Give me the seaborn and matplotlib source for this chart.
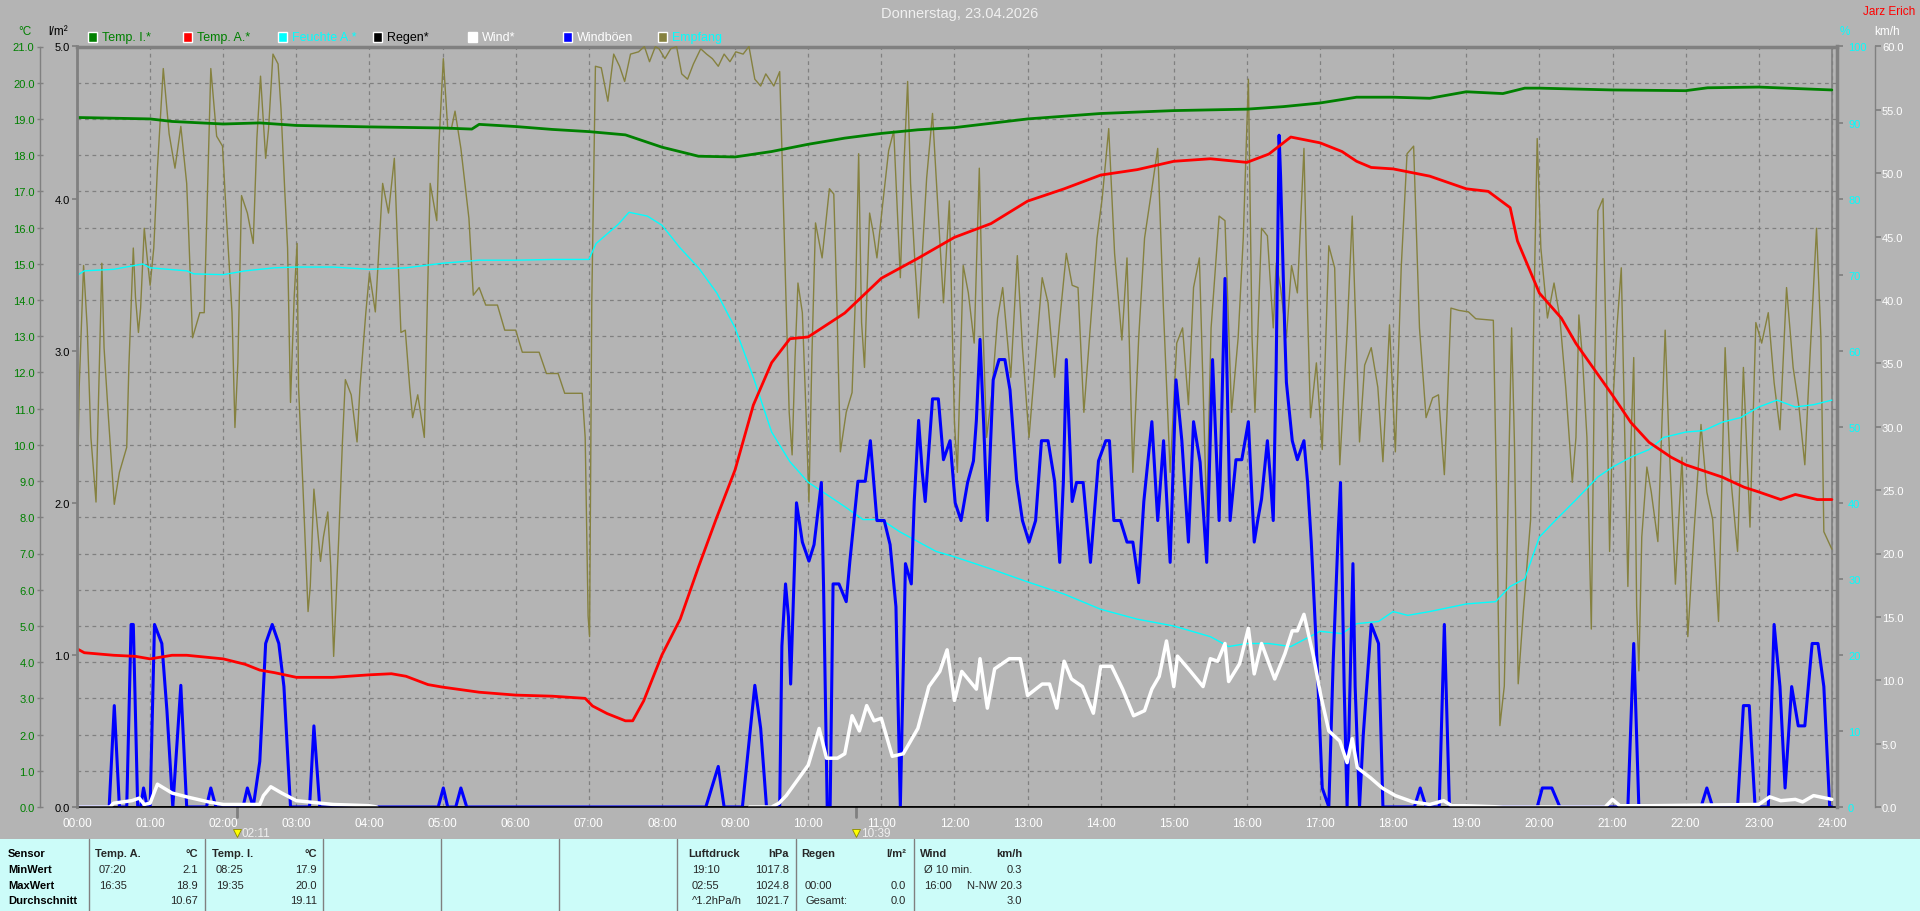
import numpy as np
import pandas as pd
import matplotlib
matplotlib.use("Agg")
import matplotlib.pyplot as plt
import matplotlib.transforms as mtransforms
from matplotlib.patches import Rectangle
import seaborn as sns

# ---- data (time in hours of the day) ----
temp_i_t = [0, 1, 1.3, 2, 2.5, 3, 4, 5, 5.4, 5.5, 6, 6.5, 7, 7.5, 8, 8.5, 9, 9.5, 10, 10.5,
            11, 11.5, 12, 13, 14, 15, 16, 16.5, 17, 17.5, 18, 18.5, 19, 19.5, 19.8, 20, 21, 22,
            22.3, 23, 24]
temp_i = [19.04, 19.0, 18.93, 18.86, 18.89, 18.82, 18.78, 18.75, 18.72, 18.85, 18.79, 18.71,
          18.65, 18.56, 18.22, 17.97, 17.95, 18.1, 18.3, 18.47, 18.6, 18.7, 18.76, 19.0, 19.15,
          19.23, 19.27, 19.34, 19.44, 19.6, 19.6, 19.57, 19.75, 19.7, 19.85, 19.85, 19.8, 19.78,
          19.86, 19.88, 19.8]

temp_a_t = [0, 0.1, 0.5, 0.8, 1, 1.3, 1.5, 2, 2.3, 2.5, 2.7, 3, 3.5, 4, 4.3, 4.5, 4.8, 5, 5.5, 6,
            6.5, 6.95, 7.05, 7.25, 7.5, 7.6, 7.75, 8, 8.25, 8.5, 8.75, 9, 9.25, 9.5, 9.75, 10,
            10.5, 11, 11.5, 12, 12.5, 13, 13.5, 14, 14.5, 15, 15.5, 16, 16.3, 16.6, 16.9, 17,
            17.3, 17.5, 17.7, 18, 18.5, 19, 19.3, 19.6, 19.7, 20, 20.3, 20.5, 21, 21.25, 21.5,
            21.8, 22, 22.5, 22.8, 23, 23.3, 23.5, 23.8, 24]
temp_a = [4.37, 4.26, 4.19, 4.16, 4.09, 4.19, 4.19, 4.09, 3.94, 3.78, 3.71, 3.58, 3.58, 3.65,
          3.68, 3.61, 3.38, 3.31, 3.17, 3.09, 3.06, 3.0, 2.79, 2.58, 2.38, 2.38, 2.93, 4.2, 5.19,
          6.63, 8.0, 9.31, 11.1, 12.27, 12.93, 12.98, 13.64, 14.6, 15.15, 15.73, 16.11, 16.73,
          17.07, 17.45, 17.6, 17.83, 17.9, 17.8, 18.03, 18.5, 18.38, 18.34, 18.1, 17.83, 17.66,
          17.62, 17.42, 17.07, 17.0, 16.55, 15.63, 14.19, 13.5, 12.8, 11.37, 10.62, 10.07, 9.66,
          9.45, 9.11, 8.83, 8.7, 8.49, 8.63, 8.49, 8.49]

hum_t = [0, 0.1, 0.5, 0.9, 1, 1.5, 1.6, 2, 2.3, 2.7, 3, 3.5, 4, 4.5, 5, 5.5, 6, 6.5, 7, 7.1,
         7.4, 7.55, 7.8, 8, 8.25, 8.5, 8.75, 9, 9.25, 9.5, 9.75, 10, 10.25, 10.5, 10.75, 11,
         11.25, 11.5, 11.75, 12, 12.5, 13, 13.5, 14, 14.5, 15, 15.5, 15.75, 16, 16.3, 16.6, 17,
         17.3, 17.5, 17.8, 18, 18.2, 18.5, 19, 19.4, 19.6, 19.8, 20, 20.2, 20.5, 20.8, 21, 21.25,
         21.5, 21.7, 22, 22.25, 22.5, 22.75, 23, 23.25, 23.5, 23.75, 24]
hum = [69.9, 70.5, 70.7, 71.4, 70.9, 70.5, 70.1, 70.0, 70.5, 70.9, 71.0, 71.0, 70.7, 70.9, 71.5,
       71.9, 71.9, 72.0, 72.0, 74.1, 76.6, 78.2, 77.7, 76.5, 73.5, 70.9, 67.6, 63.0, 56.5, 49.3,
       45.4, 42.7, 41.1, 39.5, 37.8, 37.8, 36.2, 34.9, 33.6, 32.9, 31.3, 29.6, 28.0, 26.0, 24.7,
       23.8, 22.4, 21.1, 21.5, 21.5, 21.1, 23.1, 22.8, 24.1, 24.4, 25.7, 25.2, 25.7, 26.7, 27.0,
       29.0, 30.0, 35.5, 37.5, 40.4, 43.4, 44.7, 46.0, 47.0, 48.6, 49.3, 49.5, 50.6, 51.2, 52.6,
       53.5, 52.6, 52.9, 53.5]

# None marks a gap in the record
wind_t = [0, 0.45, 0.5, 0.75, 0.85, 0.92, 1.0, 1.1, 1.3, 1.5,
          1.8, 2.0, 2.5, 2.55, 2.65, 2.8, 3.0, 3.5, 4.0, 4.1,
          6.0, 9.2, 9.5, 9.6, 9.7, 9.8, 10.0, 10.15, 10.25, 10.4, 10.5, 10.6,
          10.7, 10.8, 10.9, 11.0, 11.15, 11.3, 11.5, 11.65, 11.8, 11.9,
          12.0, 12.1, 12.3, 12.35, 12.45, 12.55, 12.75, 12.9, 13.0, 13.2,
          13.3, 13.4, 13.5, 13.6, 13.75, 13.9, 14.0, 14.15, 14.3, 14.45,
          14.6, 14.7, 14.8, 14.9, 15.0, 15.05, 15.2, 15.4, 15.5, 15.6,
          15.7, 15.75, 15.9, 16.02, 16.1, 16.2, 16.38, 16.52, 16.62, 16.69,
          16.78, 16.91, 17.01, 17.12, 17.27, 17.37, 17.44, 17.51, 17.69, 17.85,
          18.03, 18.27, 18.5, 18.69, 18.8, 19.0, 19.5, 20.0, 20.9, 21.0,
          21.1, 21.5, 23.0, 23.15, 23.3, 23.5, 23.6, 23.75, 24.0]
wind = [0, 0, 0.3, 0.5, 0.7, 0.2, 0.3, 1.8, 1.1, 0.8,
        0.4, 0.2, 0.2, 0.9, 1.6, 1.1, 0.5, 0.2, 0.1, 0,
        None, 0, 0, 0.3, 0.9, 1.7, 3.3, 6.2, 3.85, 3.85, 4.2, 7.2,
        6.0, 8.0, 6.8, 7.0, 4.0, 4.2, 6.2, 9.5, 10.7, 12.4,
        8.4, 10.7, 9.3, 11.7, 7.8, 10.9, 11.7, 11.7, 8.8, 9.7,
        9.7, 7.8, 11.5, 10.1, 9.5, 7.4, 11.1, 11.1, 9.3, 7.2,
        7.6, 9.3, 10.3, 13.1, 9.5, 11.9, 10.9, 9.5, 11.7, 11.5,
        12.9, 9.9, 11.3, 14.1, 10.5, 12.9, 10.1, 12.1, 13.9, 13.9,
        15.2, 11.9, 8.8, 6.0, 5.2, 3.5, 5.4, 3.1, 2.3, 1.5,
        0.9, 0.4, 0.2, 0.5, 0.1, 0.1, 0, 0, 0, 0.6,
        0.1, 0.1, 0.2, 0.8, 0.5, 0.6, 0.4, 0.9, 0.6]

gust_t = [0.0, 0.44, 0.51, 0.58, 0.68, 0.74, 0.77, 0.83, 0.87, 0.91,
          0.96, 1.00, 1.06, 1.16, 1.23, 1.31, 1.42, 1.50, 1.77, 1.83,
          1.90, 2.27, 2.33, 2.41, 2.50, 2.58, 2.67, 2.76, 2.83, 2.92,
          3.18, 3.24, 3.32, 4.94, 5.01, 5.07, 5.18, 5.25, 5.33, 8.60,
          8.77, 8.85, 9.10, 9.27, 9.35, 9.43, 9.61, 9.64, 9.69, 9.73,
          9.76, 9.79, 9.84, 9.92, 10.01, 10.08, 10.18, 10.21, 10.26, 10.30,
          10.34, 10.42, 10.52, 10.57, 10.68, 10.78, 10.85, 10.94, 11.04, 11.12,
          11.20, 11.26, 11.33, 11.41, 11.45, 11.51, 11.56, 11.60, 11.70, 11.78,
          11.85, 11.94, 12.01, 12.09, 12.18, 12.26, 12.30, 12.35, 12.40, 12.45,
          12.53, 12.61, 12.69, 12.76, 12.85, 12.93, 13.02, 13.11, 13.19, 13.28,
          13.37, 13.44, 13.49, 13.53, 13.61, 13.67, 13.76, 13.86, 13.97, 14.07,
          14.12, 14.18, 14.27, 14.36, 14.44, 14.52, 14.59, 14.70, 14.78, 14.86,
          14.95, 15.03, 15.11, 15.20, 15.27, 15.36, 15.45, 15.53, 15.62, 15.70,
          15.77, 15.85, 15.93, 16.02, 16.07, 16.10, 16.15, 16.20, 16.28, 16.32,
          16.36, 16.40, 16.44, 16.46, 16.52, 16.54, 16.62, 16.69, 16.78, 16.83,
          16.88, 16.96, 17.03, 17.12, 17.18, 17.25, 17.28, 17.33, 17.37, 17.41,
          17.45, 17.48, 17.54, 17.59, 17.70, 17.80, 17.86, 18.29, 18.37, 18.45,
          18.63, 18.70, 18.77, 19.97, 20.04, 20.17, 20.28, 21.21, 21.29, 21.36,
          22.21, 22.29, 22.37, 22.71, 22.79, 22.87, 22.95, 23.13, 23.21, 23.29,
          23.36, 23.45, 23.54, 23.63, 23.73, 23.81, 23.89, 23.97, 24.0]
gust = [0, 0, 8.0, 0, 0, 14.4, 14.4, 0, 0, 1.5,
        0, 0, 14.4, 12.9, 7.6, 0, 9.6, 0, 0, 1.5,
        0, 0, 1.5, 0, 3.6, 12.9, 14.4, 12.9, 9.5, 0,
        0, 6.4, 0, 0, 1.5, 0, 0, 1.5, 0, 0,
        3.2, 0, 0, 9.6, 6.2, 0, 0, 12.7, 17.6, 15.0,
        9.7, 15.0, 24.0, 20.9, 19.4, 20.7, 25.6, 17.4, 0, 0,
        17.6, 17.6, 16.2, 19.4, 25.7, 25.7, 28.9, 22.6, 22.6, 20.7,
        15.8, 0, 19.2, 17.6, 24.1, 30.5, 26.4, 24.1, 32.2, 32.2,
        27.4, 28.9, 24.0, 22.6, 25.6, 27.3, 30.5, 36.9, 30.2, 22.6,
        33.7, 35.3, 35.3, 32.9, 25.8, 22.6, 20.9, 22.6, 28.9, 28.9,
        25.7, 19.3, 25.7, 35.3, 24.1, 25.6, 25.6, 19.3, 27.3, 28.9,
        28.9, 22.6, 22.6, 20.9, 20.9, 17.7, 24.1, 30.4, 22.6, 28.9,
        19.3, 33.7, 28.9, 20.9, 30.4, 27.2, 19.3, 35.3, 22.6, 41.7,
        22.6, 27.4, 27.4, 30.4, 24.3, 20.9, 22.7, 24.3, 28.9, 26.0,
        22.6, 34.7, 53.0, 49.8, 37.0, 33.5, 28.9, 27.4, 28.9, 25.6,
        20.9, 11.3, 1.5, 0, 11.5, 21.9, 25.6, 9.5, 0, 9.5,
        19.2, 9.5, 0, 5.6, 14.4, 12.9, 0, 0, 1.5, 0,
        0, 14.4, 0, 0, 1.5, 1.5, 0, 0, 12.9, 0,
        0, 1.5, 0, 0, 8.0, 8.0, 0, 0, 14.4, 9.5,
        1.5, 9.5, 6.4, 6.4, 12.9, 12.9, 9.5, 0, 0]

emp_t = [0.00, 0.03, 0.09, 0.14, 0.19, 0.26, 0.30, 0.34, 0.37, 0.43,
         0.51, 0.58, 0.68, 0.71, 0.77, 0.80, 0.84, 0.87, 0.92, 0.96,
         1.00, 1.05, 1.10, 1.18, 1.26, 1.34, 1.42, 1.50, 1.53, 1.58,
         1.68, 1.74, 1.78, 1.83, 1.91, 1.99, 2.04, 2.12, 2.16, 2.20,
         2.25, 2.33, 2.41, 2.46, 2.51, 2.58, 2.62, 2.68, 2.75, 2.79,
         2.84, 2.88, 2.92, 2.97, 3.01, 3.03, 3.09, 3.16, 3.19, 3.24,
         3.33, 3.37, 3.43, 3.47, 3.51, 3.58, 3.63, 3.67, 3.75, 3.83,
         3.87, 3.95, 4.00, 4.08, 4.13, 4.18, 4.26, 4.34, 4.38, 4.43,
         4.49, 4.55, 4.59, 4.66, 4.75, 4.78, 4.83, 4.92, 4.95, 5.01,
         5.07, 5.12, 5.17, 5.25, 5.36, 5.42, 5.50, 5.59, 5.75, 5.85,
         6.00, 6.09, 6.32, 6.42, 6.58, 6.67, 6.91, 6.95, 6.99, 7.01,
         7.04, 7.09, 7.17, 7.26, 7.34, 7.42, 7.49, 7.57, 7.68, 7.76,
         7.83, 7.91, 7.96, 8.04, 8.12, 8.20, 8.27, 8.35, 8.43, 8.53,
         8.61, 8.69, 8.77, 8.85, 8.93, 9.01, 9.11, 9.19, 9.27, 9.35,
         9.42, 9.53, 9.61, 9.64, 9.69, 9.74, 9.78, 9.82, 9.86, 9.92,
         9.97, 10.01, 10.05, 10.10, 10.19, 10.29, 10.35, 10.39, 10.44, 10.52,
         10.60, 10.65, 10.69, 10.73, 10.77, 10.84, 10.89, 10.94, 11.02, 11.10,
         11.17, 11.26, 11.31, 11.36, 11.40, 11.46, 11.51, 11.62, 11.70, 11.79,
         11.85, 11.93, 12.00, 12.04, 12.12, 12.19, 12.27, 12.34, 12.39, 12.44,
         12.51, 12.59, 12.66, 12.77, 12.86, 12.93, 13.02, 13.11, 13.20, 13.28,
         13.37, 13.45, 13.53, 13.61, 13.69, 13.77, 13.87, 13.95, 14.02, 14.11,
         14.19, 14.29, 14.36, 14.44, 14.52, 14.60, 14.70, 14.78, 14.86, 14.95,
         15.04, 15.12, 15.20, 15.27, 15.35, 15.45, 15.51, 15.62, 15.70, 15.79,
         15.88, 15.95, 16.02, 16.07, 16.11, 16.20, 16.28, 16.36, 16.40, 16.46,
         16.54, 16.61, 16.69, 16.78, 16.83, 16.87, 16.95, 17.03, 17.12, 17.20,
         17.27, 17.37, 17.44, 17.54, 17.61, 17.70, 17.79, 17.86, 17.95, 18.03,
         18.11, 18.19, 18.28, 18.36, 18.45, 18.54, 18.62, 18.70, 18.74, 18.79,
         18.90, 19.03, 19.13, 19.37, 19.41, 19.46, 19.52, 19.62, 19.66, 19.71,
         19.78, 19.88, 19.93, 19.97, 20.02, 20.11, 20.20, 20.28, 20.36, 20.45,
         20.50, 20.54, 20.59, 20.65, 20.71, 20.75, 20.80, 20.87, 20.91, 20.96,
         21.01, 21.06, 21.12, 21.17, 21.21, 21.25, 21.29, 21.33, 21.36, 21.40,
         21.47, 21.53, 21.62, 21.72, 21.77, 21.86, 21.95, 22.03, 22.11, 22.21,
         22.29, 22.37, 22.45, 22.54, 22.61, 22.71, 22.79, 22.88, 22.96, 23.04,
         23.13, 23.21, 23.29, 23.38, 23.47, 23.55, 23.63, 23.70, 23.79, 23.85,
         23.89, 24.00]
emp = [38.2, 55.2, 71.2, 63.0, 48.6, 40.1, 55.8, 71.5, 60.4, 51.2,
       39.8, 44.0, 47.3, 58.1, 73.5, 67.0, 62.4, 65.6, 76.1, 72.2,
       68.6, 73.5, 84.0, 97.1, 88.5, 84.0, 89.5, 82.0, 74.8, 61.7,
       65.0, 65.0, 79.4, 97.1, 88.2, 86.9, 78.1, 65.0, 49.9, 58.4,
       80.4, 78.1, 74.1, 87.9, 96.1, 85.3, 89.2, 99.0, 97.7, 91.8,
       81.3, 73.5, 53.2, 67.0, 74.1, 55.2, 42.1, 25.7, 29.0, 41.8,
       32.3, 35.5, 38.8, 31.6, 19.8, 35.5, 48.0, 56.2, 54.2, 48.0,
       55.2, 65.0, 70.2, 65.1, 73.5, 82.0, 78.1, 85.3, 74.8, 62.4,
       62.7, 55.2, 51.2, 54.2, 48.6, 61.7, 82.0, 77.1, 87.2, 98.4,
       89.2, 89.2, 91.5, 86.6, 77.4, 67.3, 68.3, 66.0, 66.0, 62.7,
       62.7, 59.8, 59.8, 57.0, 57.0, 54.4, 54.4, 48.6, 25.1, 22.4,
       66.3, 97.4, 97.2, 92.8, 99.0, 97.4, 95.4, 99.0, 99.3, 100.0,
       98.0, 100.0, 99.7, 98.4, 99.7, 100.0, 96.4, 95.7, 97.7, 99.7,
       99.0, 98.4, 97.4, 99.0, 98.0, 99.3, 99.0, 100.0, 95.7, 94.8,
       96.4, 94.8, 96.7, 86.6, 68.9, 51.9, 46.3, 59.1, 68.9, 65.0,
       51.9, 40.1, 59.1, 76.8, 72.2, 81.3, 80.6, 67.0, 46.7, 51.9,
       54.5, 68.3, 85.9, 63.7, 57.8, 78.1, 75.5, 72.2, 79.4, 86.3,
       88.9, 69.6, 84.6, 95.4, 82.0, 71.5, 64.3, 82.7, 91.2, 76.1,
       66.3, 79.7, 50.6, 44.0, 71.2, 67.6, 61.0, 84.0, 63.0, 48.6,
       54.2, 64.3, 68.3, 56.5, 72.5, 60.4, 48.6, 59.1, 69.6, 66.3,
       56.5, 65.0, 72.8, 68.6, 68.3, 51.9, 64.7, 74.8, 80.0, 89.2,
       72.8, 61.4, 72.2, 44.0, 61.7, 74.8, 81.3, 86.6, 65.0, 44.0,
       61.0, 63.0, 52.9, 68.3, 72.2, 38.2, 63.0, 77.7, 77.1, 51.9,
       61.7, 74.8, 95.7, 61.7, 51.9, 76.1, 75.1, 63.0, 71.5, 68.3,
       61.7, 71.2, 67.6, 86.6, 65.0, 51.2, 58.4, 47.0, 73.8, 70.9,
       45.0, 62.4, 77.7, 48.0, 58.1, 60.4, 55.2, 45.4, 63.4, 46.7,
       70.9, 85.9, 86.9, 63.0, 51.2, 53.8, 54.2, 43.7, 52.6, 65.6,
       65.3, 65.1, 64.2, 64.0, 43.4, 10.7, 15.9, 63.0, 47.3, 16.2,
       25.7, 37.8, 68.3, 87.9, 73.5, 64.3, 68.9, 64.3, 55.2, 42.7,
       48.6, 64.7, 58.9, 48.6, 23.4, 55.2, 78.4, 80.0, 61.7, 33.6,
       53.9, 63.0, 70.9, 47.3, 29.0, 47.3, 59.1, 26.4, 17.9, 35.5,
       44.7, 41.4, 34.9, 62.7, 48.6, 29.3, 46.0, 22.4, 35.5, 50.3,
       41.4, 37.8, 24.4, 60.4, 44.0, 33.6, 57.8, 36.8, 63.7, 61.0,
       65.0, 55.8, 49.6, 68.3, 57.8, 52.6, 45.0, 59.1, 76.1, 61.7,
       36.2, 33.9]

rain_t = [0, 24]
rain = [0.0, 0.0]

hour_labels = [f"{h:02d}:00" for h in range(25)]
events = [(2 + 11 / 60, "02:11"), (10 + 39 / 60, "10:39")]

legend_items = [("Temp. I.*", "#008000", "#008000"), ("Temp. A.*", "#ff0000", "#008000"),
                ("Feuchte A.*", "#00ffff", "#00ffff"), ("Regen*", "#000000", "#000000"),
                ("Wind*", "#ffffff", "#ffffff"), ("Windböen", "#0000ff", "#ffffff"),
                ("Empfang", "#85813f", "#00ffff")]

row_labels = ["Sensor", "MinWert", "MaxWert", "Durchschnitt"]
table_cols = [
    ("Temp. A.", "°C", ["07:20", "16:35", ""], ["2.1", "18.9", "10.67"]),
    ("Temp. I.", "°C", ["08:25", "19:35", ""], ["17.9", "20.0", "19.11"]),
    ("Luftdruck", "hPa", ["19:10", "02:55", "^1.2hPa/h"], ["1017.8", "1024.8", "1021.7"]),
    ("Regen", "l/m²", ["", "00:00", "Gesamt:"], ["", "0.0", "0.0"]),
    ("Wind", "km/h", ["Ø 10 min.", "16:00", ""], ["0.3", "N-NW 20.3", "3.0"]),
]

# ---- styling ----
sns.set_theme(style="ticks")
plt.rcParams['font.family'] = ['Liberation Sans', 'DejaVu Sans']

BG = '#b4b4b4'
GRID = '#808080'
GREEN = '#008000'
RED = '#ff0000'
CYAN = '#00ffff'
BLUE = '#0000ff'
OLIVE = '#85813f'
W, H = 1920, 912


def fx(x):
    return x / W


def fy(y):
    return 1 - y / H


def frame(df):
    df = pd.DataFrame(df)
    df['seg'] = df['v'].isna().cumsum()
    return df.dropna()


fig = plt.figure(figsize=(19.2, 9.12), dpi=100, facecolor=BG)
ax = fig.add_axes([fx(77), fy(808), (1837 - 77) / W, (808 - 47.5) / H])
ax.set_facecolor(BG)
ax.set_xlim(0, 24.07)
ax.set_ylim(0, 21)
ax.set_xticks(range(25))
ax.set_xticklabels(hour_labels)
ax.set_yticks(range(22))
ax.set_yticklabels([f"{v:.1f}" for v in range(22)])
ax.grid(True, color=GRID, ls=(0, (3, 3)), lw=0.9)
ax.axvline(24, color=GRID, lw=1.2)
ax.tick_params(axis='x', length=0, pad=7, labelcolor='white', labelsize=8.5)
ax.tick_params(axis='y', direction='inout', length=5, color=GRID, labelcolor=GREEN,
               labelsize=8, pad=1.5, width=1)
ax.spines['left'].set_position(('outward', 26.6))
ax.spines['left'].set_color(GRID)
ax.spines['left'].set_linewidth(1)
ax.spines['top'].set_color(GRID)
ax.spines['top'].set_linewidth(2.5)
ax.spines['right'].set_visible(False)
ax.spines['bottom'].set_color('black')
ax.spines['bottom'].set_linewidth(1.2)

# humidity / reception axis
ax_h = ax.twinx()
ax_h.set_ylim(0, 100)
ax_h.set_yticks(range(0, 101, 10))
ax_h.tick_params(axis='y', direction='out', length=4, color=GRID, labelcolor=CYAN,
                 labelsize=8, pad=4)
for s in ['left', 'top', 'bottom']:
    ax_h.spines[s].set_visible(False)
ax_h.spines['right'].set_color(GRID)
ax_h.spines['right'].set_linewidth(2.5)
sns.lineplot(data=frame({'t': emp_t, 'v': emp}), x='t', y='v', ax=ax_h, color=OLIVE,
             lw=1, estimator=None, sort=False, legend=False)
sns.lineplot(data=frame({'t': hum_t, 'v': hum}), x='t', y='v', ax=ax_h, color=CYAN,
             lw=1, estimator=None, sort=False, legend=False)
ax_h.set_xlabel('')
ax_h.set_ylabel('')

# wind axis
ax_w = ax.twinx()
ax_w.set_ylim(0, 60)
ax_w.set_yticks(np.arange(0, 61, 5))
ax_w.set_yticklabels([f"{v:.1f}" for v in np.arange(0, 61, 5)])
ax_w.tick_params(axis='y', direction='out', length=4, color=GRID, labelcolor='white',
                 labelsize=8, pad=1)
for s in ['left', 'top', 'bottom']:
    ax_w.spines[s].set_visible(False)
ax_w.spines['right'].set_position(('outward', 27.4))
ax_w.spines['right'].set_color(GRID)
ax_w.spines['right'].set_linewidth(1)
sns.lineplot(data=frame({'t': gust_t, 'v': gust}), x='t', y='v', ax=ax_w, color=BLUE,
             lw=2.2, estimator=None, sort=False, legend=False)
sns.lineplot(data=frame({'t': wind_t, 'v': wind}), x='t', y='v', units='seg', ax=ax_w,
             color='white', lw=2.5, estimator=None, sort=False, legend=False)
ax_w.set_xlabel('')
ax_w.set_ylabel('')

# temperatures on top
ax_t = ax.twinx()
ax_t.set_ylim(0, 21)
ax_t.set_yticks([])
for s in ax_t.spines.values():
    s.set_visible(False)
sns.lineplot(x=temp_a_t, y=temp_a, ax=ax_t, color=RED, lw=2, estimator=None, sort=False)
sns.lineplot(x=temp_i_t, y=temp_i, ax=ax_t, color=GREEN, lw=2, estimator=None, sort=False)

# rain axis (left, l/m²)
ax_r = ax.twinx()
ax_r.set_ylim(0, 5)
ax_r.yaxis.tick_left()
ax_r.set_yticks(range(6))
ax_r.set_yticklabels([f"{v:.1f}" for v in range(6)])
ax_r.tick_params(axis='y', direction='out', length=3.6, color=GRID, labelcolor='black',
                 labelsize=8, pad=1.5)
for s in ['right', 'top', 'bottom']:
    ax_r.spines[s].set_visible(False)
ax_r.spines['left'].set_visible(True)
ax_r.spines['left'].set_color(GRID)
ax_r.spines['left'].set_linewidth(2)
sns.lineplot(x=rain_t, y=rain, ax=ax_r, color='black', lw=1.8, estimator=None, sort=False)

for a in (ax, ax_h, ax_w, ax_t, ax_r):
    a.set_xlim(0, 24.07)

# event markers below the time axis
trans = mtransforms.blended_transform_factory(ax.transData, fig.transFigure)
for t, lab in events:
    ax.plot([t, t], [fy(808), fy(818)], transform=trans, color=GRID, lw=2, clip_on=False)
    ax.plot([t], [fy(834)], transform=trans, marker='v', ms=6, color='#ffff00',
            mec='#8a8a00', mew=0.6, clip_on=False)
    ax.text(t + 0.07, fy(834), lab, transform=trans, color='#f0f0f0', fontsize=8.5,
            ha='left', va='center')

# headings, units, legend
fig.text(0.5, fy(14), "Donnerstag, 23.04.2026", color='#f0f0f0', fontsize=10.5,
         ha='center', va='center')
fig.text(fx(1915), fy(12), "Jarz Erich", color=RED, fontsize=8.5, ha='right', va='center')
fig.text(fx(25), fy(32), "°C", color=GREEN, fontsize=8.5, ha='center', va='center')
fig.text(fx(58), fy(32), "l/m²", color='black', fontsize=8.5, ha='center', va='center')
fig.text(fx(1845), fy(32), "%", color=CYAN, fontsize=8.5, ha='center', va='center')
fig.text(fx(1887), fy(32), "km/h", color='white', fontsize=8.5, ha='center', va='center')

for i, (lab, sq, tc) in enumerate(legend_items):
    x0 = 88 + 95 * i
    fig.patches.append(Rectangle((fx(x0), fy(43)), 9 / W, 10 / H, transform=fig.transFigure,
                                 facecolor=sq, edgecolor='white', lw=1))
    fig.text(fx(x0 + 14), fy(38), lab, color=tc, fontsize=9, ha='left', va='center')

# statistics table
fig.patches.append(Rectangle((0, 0), 1, fy(840), transform=fig.transFigure,
                             facecolor='#ccfcf9', edgecolor='none', zorder=0))
for xs in [89, 205, 323, 441, 559, 677, 796, 914]:
    fig.add_artist(plt.Line2D([fx(xs), fx(xs)], [0, fy(840)], transform=fig.transFigure,
                              color=GRID, lw=1))
rows_y = [854, 870, 886, 901]
for lab, yy in zip(row_labels, rows_y):
    fig.text(fx(8), fy(yy), lab, fontsize=8, fontweight='bold', va='center', color='black')
col_x = [(95, 198), (212, 317), (688, 789), (801, 906), (920, 1022)]
for (name, unit, times, vals), (xl, xr) in zip(table_cols, col_x):
    fig.text(fx(xl), fy(rows_y[0]), name, fontsize=8, fontweight='bold', va='center')
    fig.text(fx(xr), fy(rows_y[0]), unit, fontsize=8, fontweight='bold', va='center',
             ha='right')
    for tm, v, yy in zip(times, vals, rows_y[1:]):
        fig.text(fx(xl + 4), fy(yy), tm, fontsize=8, va='center')
        fig.text(fx(xr), fy(yy), v, fontsize=8, va='center', ha='right')

fig.savefig("out.png", dpi=100, facecolor=BG)
